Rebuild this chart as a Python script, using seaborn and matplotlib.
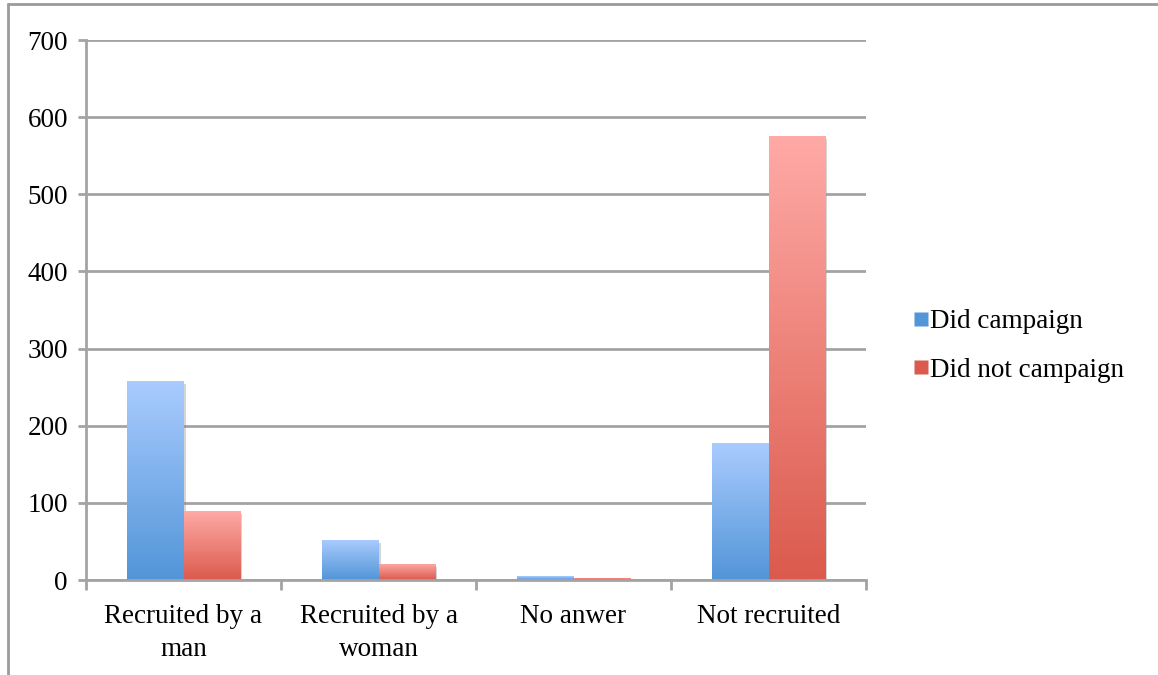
import numpy as np
import pandas as pd
import matplotlib
matplotlib.use("Agg")
import matplotlib.pyplot as plt
import matplotlib.patheffects as pe
from matplotlib.colors import LinearSegmentedColormap
from matplotlib.lines import Line2D
import seaborn as sns

# Survey counts by recruitment status
categories = ["Recruited by a\nman", "Recruited by a\nwoman", "No anwer", "Not recruited"]
did_campaign = [258, 52, 5, 178]
did_not_campaign = [89, 21, 3, 575]
series_names = ["Did campaign", "Did not campaign"]
y_ticks = [0, 100, 200, 300, 400, 500, 600, 700]

df = pd.DataFrame({
    "category": categories * 2,
    "value": did_campaign + did_not_campaign,
    "series": [series_names[0]] * 4 + [series_names[1]] * 4,
})

# top / bottom colours of each series' vertical gradient
grad = {
    series_names[0]: ("#AACCFF", "#5295D8"),
    series_names[1]: ("#FFAAA6", "#DB5A4D"),
}

sns.set_theme(style="white")
plt.rcParams["font.family"] = ["Liberation Serif", "DejaVu Serif"]
plt.rcParams["text.color"] = "black"

fig = plt.figure(figsize=(11.58, 6.75), dpi=100)
ax = fig.add_axes([86 / 1158, 1 - 580 / 675, 780 / 1158, 540 / 675])

palette = {k: v[1] for k, v in grad.items()}
sns.barplot(data=df, x="category", y="value", hue="series", palette=palette,
            width=0.575, ax=ax, saturation=1, legend=False, linewidth=0)

ax.set_xlim(-0.5, 3.5)
ax.set_ylim(0, 700)

# Replace flat fills with top-to-bottom gradients
for container, name in zip(ax.containers, series_names):
    cmap = LinearSegmentedColormap.from_list(name, [grad[name][1], grad[name][0]])
    for patch in container.patches:
        x0, y0 = patch.get_x(), patch.get_y()
        w, h = patch.get_width(), patch.get_height()
        patch.set_facecolor("none")
        patch.set_path_effects([pe.SimplePatchShadow(offset=(2, -2), shadow_rgbFace="#888888", alpha=0.35)])
        if h <= 0:
            continue
        img = np.linspace(0, 1, 256).reshape(-1, 1)
        im = ax.imshow(img, cmap=cmap, origin="lower", aspect="auto",
                       extent=(x0, x0 + w, y0, y0 + h), zorder=patch.get_zorder() + 0.1,
                       interpolation="bilinear")
        im.set_clip_path(patch)
ax.set_xlim(-0.5, 3.5)
ax.set_ylim(0, 700)

grid_col = "#A3A3A3"
ax.set_yticks(y_ticks)
ax.yaxis.grid(True, color=grid_col, linewidth=2)
ax.xaxis.grid(False)
ax.set_axisbelow(True)
for s in ["top", "right"]:
    ax.spines[s].set_visible(False)
for s in ["left", "bottom"]:
    ax.spines[s].set_color(grid_col)
    ax.spines[s].set_linewidth(2)

ax.set_xlabel("")
ax.set_ylabel("")
ax.tick_params(axis="y", which="major", left=True, length=6, width=2, color=grid_col,
               labelsize=19.5, pad=7, labelcolor="black")
ax.tick_params(axis="x", which="major", bottom=False, labelsize=19.5, pad=11, labelcolor="black")
ax.set_xticks(range(len(categories)))
ax.set_xticklabels(categories, linespacing=1.45)
ax.set_xticks([-0.5, 0.5, 1.5, 2.5, 3.5], minor=True)
ax.tick_params(axis="x", which="minor", bottom=True, length=7, width=2, color=grid_col)

# Legend with small square swatches
handles = [
    Line2D([], [], marker="s", linestyle="none", markersize=10,
           markerfacecolor=grad[n][1], markeredgecolor="none", label=n)
    for n in series_names
]
fig.legend(handles=handles, loc="center left", bbox_to_anchor=(897 / 1158, 1 - 346 / 675),
           frameon=False, fontsize=19.5, handletextpad=-0.2, labelspacing=0.85,
           handlelength=1.0, borderaxespad=0, labelcolor="black")

# Outer chart frame
fig.add_artist(Line2D([8 / 1158, 8 / 1158], [0, 1 - 4 / 675], transform=fig.transFigure,
                      color="#9A9A9A", linewidth=2))
fig.add_artist(Line2D([8 / 1158, 1], [1 - 4 / 675, 1 - 4 / 675], transform=fig.transFigure,
                      color="#9A9A9A", linewidth=2))

fig.savefig("out.png", dpi=100)
